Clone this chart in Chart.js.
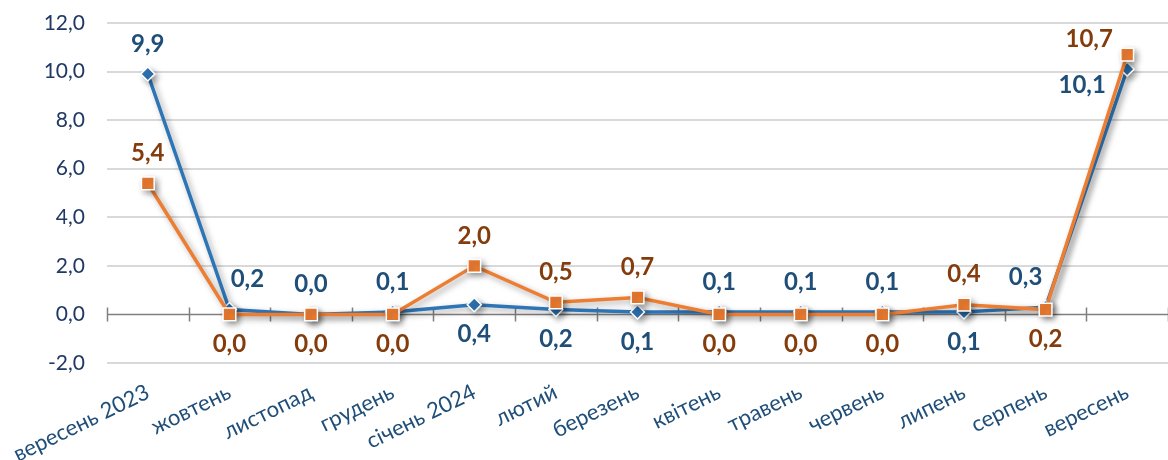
<!DOCTYPE html>
<html><head><meta charset="utf-8">
<script src="https://cdn.jsdelivr.net/npm/chart.js@4/dist/chart.umd.min.js"></script>
<style>html,body{margin:0;padding:0;background:#fff;}#wrap{width:1168px;height:460px;}</style>
</head><body><div id="wrap"><canvas id="c" width="1168" height="460"></canvas></div>
<script>
const categories = ['вересень 2023','жовтень','листопад','грудень','січень 2024','лютий','березень','квітень','травень','червень','липень','серпень','вересень'];
const blueValues = [9.9, 0.2, 0.0, 0.1, 0.4, 0.2, 0.1, 0.1, 0.1, 0.1, 0.1, 0.3, 10.1];
const orangeValues = [5.4, 0.0, 0.0, 0.0, 2.0, 0.5, 0.7, 0.0, 0.0, 0.0, 0.4, 0.2, 10.7];
const yMin = -2, yMax = 12, yStep = 2;

const fmt = v => v.toFixed(1).replace('.', ',');
const FONT = 'Lato, "Open Sans", sans-serif';

const shadowPlugin = {
  id: 'shadow',
  beforeDatasetDraw(chart) {
    const ctx = chart.ctx; ctx.save();
    ctx.shadowColor = 'rgba(0,0,0,0.35)'; ctx.shadowBlur = 6; ctx.shadowOffsetX = 3; ctx.shadowOffsetY = 3;
  },
  afterDatasetDraw(chart) { chart.ctx.restore(); }
};

const zeroAxisPlugin = {
  id: 'zeroAxis',
  beforeDatasetsDraw(chart) {
    const {ctx, chartArea, scales} = chart;
    const y0 = scales.y.getPixelForValue(0);
    const n = categories.length;
    const step = (chartArea.right - chartArea.left) / n;
    ctx.save();
    ctx.strokeStyle = '#808080'; ctx.lineWidth = 1.5;
    ctx.beginPath();
    ctx.moveTo(chartArea.left, y0); ctx.lineTo(chartArea.right, y0);
    for (let k = 0; k <= n; k++) {
      const x = Math.round(chartArea.left + k * step) + 0.5;
      ctx.moveTo(x, y0 - 7); ctx.lineTo(x, y0 + 7);
    }
    ctx.stroke(); ctx.restore();
  }
};

const labelPlugin = {
  id: 'valueLabels',
  afterDatasetsDraw(chart) {
    const ctx = chart.ctx;
    const colors = ['#1F4E79', '#843C0C'];
    const n = categories.length;
    ctx.save();
    ctx.font = 'bold 24px ' + FONT;
    ctx.textAlign = 'center'; ctx.textBaseline = 'middle';
    chart.data.datasets.forEach((ds, di) => {
      const meta = chart.getDatasetMeta(di);
      const other = chart.data.datasets[1 - di].data;
      meta.data.forEach((pt, i) => {
        const v = ds.data[i], o = other[i];
        const above = v > o || (v === o && di === 0) || Math.abs(v - o) > 2;
        let x = pt.x, y = above ? pt.y - 30 : pt.y + 30;
        if (above && i > 0 && ds.data[i - 1] - v > 2) x += 18;
        if (above && i < n - 1 && ds.data[i + 1] - v > 2) x -= 20;
        if (i === n - 1) {
          if (above) { x -= 38; y = pt.y - 15; } else { x -= 45; y = pt.y + 16; }
        }
        ctx.fillStyle = colors[di];
        ctx.fillText(fmt(v), x, y);
      });
    });
    ctx.restore();
  }
};

new Chart(document.getElementById('c'), {
  type: 'line',
  data: {
    labels: categories,
    datasets: [
      { data: blueValues, borderColor: '#2E75B6', backgroundColor: '#2E75B6', borderWidth: 3.5,
        pointStyle: 'rectRot', pointRadius: 7, pointBorderColor: '#fff', pointBorderWidth: 1.5, tension: 0, order: 2 },
      { data: orangeValues, borderColor: '#ED7D31', backgroundColor: '#ED7D31', borderWidth: 3.5,
        pointStyle: 'rect', pointRadius: 9, pointBorderColor: '#fff', pointBorderWidth: 1.5, tension: 0, order: 1 }
    ]
  },
  options: {
    responsive: false, animation: false, devicePixelRatio: 1,
    layout: { autoPadding: false, padding: { top: 23, right: 0, left: 0, bottom: 0 } },
    plugins: { legend: { display: false }, tooltip: { enabled: false } },
    scales: {
      x: {
        offset: true,
        grid: { display: false }, border: { display: false },
        ticks: { color: '#1F4E79', font: { family: FONT, size: 22 }, minRotation: 26, maxRotation: 26, autoSkip: false, padding: 8 },
        afterFit: s => { s.height = 97; }
      },
      y: {
        min: yMin, max: yMax,
        grid: { color: ctx => ctx.tick.value === 0 ? 'rgba(0,0,0,0)' : '#D9D9D9', lineWidth: 2,
                drawTicks: true, tickLength: 22, tickColor: 'rgba(0,0,0,0)' },
        border: { display: false },
        ticks: { stepSize: yStep, color: '#1F3864', font: { family: FONT, size: 21 }, padding: 0, callback: v => fmt(v) },
        afterFit: s => { s.width = 107; }
      }
    }
  },
  plugins: [zeroAxisPlugin, shadowPlugin, labelPlugin]
});
</script></body></html>
